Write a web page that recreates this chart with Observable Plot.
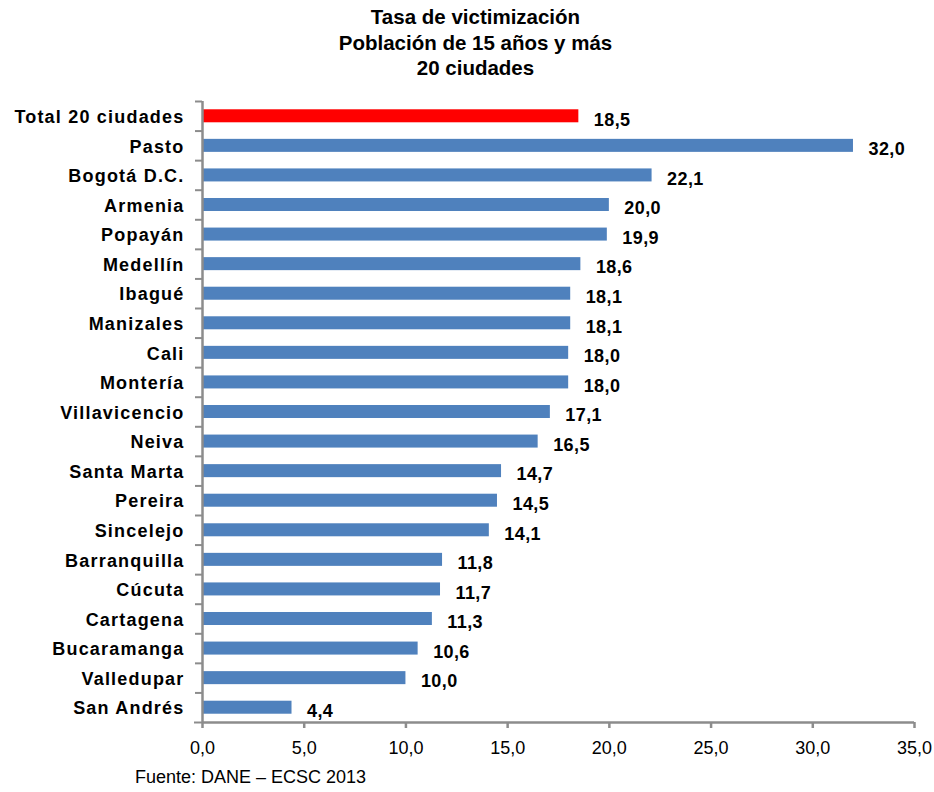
<!DOCTYPE html>
<html>
<head>
<meta charset="utf-8">
<script src="https://cdn.jsdelivr.net/npm/d3@7"></script>
<script src="https://cdn.jsdelivr.net/npm/@observablehq/plot@0.6"></script>
<style>
  html, body { margin: 0; padding: 0; background: #fff; }
  #wrap { position: relative; width: 934px; height: 792px; font-family: "Liberation Sans", Arial, sans-serif; }
  #title { position: absolute; left: 0; top: 4px; width: 951px; text-align: center; font-weight: bold; font-size: 20.5px; line-height: 25.5px; color: #000; }
  #caption { position: absolute; left: 135px; top: 768px; font-size: 18px; line-height: 18px; color: #000; }
  #chart { position: absolute; left: 0; top: 0; }
  #chart g[aria-label="y-axis tick label"] text { letter-spacing: 1.2px; }
  #chart g[aria-label="text"] text { letter-spacing: 0.4px; }
</style>
</head>
<body>
<div id="wrap">
  <div id="chart"></div>
  <div id="title">Tasa de victimización<br>Población de 15 años y más<br>20 ciudades</div>
  <div id="caption">Fuente: DANE – ECSC 2013</div>
</div>
<script>
const cities = ["Total 20 ciudades","Pasto","Bogotá D.C.","Armenia","Popayán","Medellín","Ibagué","Manizales","Cali","Montería","Villavicencio","Neiva","Santa Marta","Pereira","Sincelejo","Barranquilla","Cúcuta","Cartagena","Bucaramanga","Valledupar","San Andrés"];
const rates = [18.5,32.0,22.1,20.0,19.9,18.6,18.1,18.1,18.0,18.0,17.1,16.5,14.7,14.5,14.1,11.8,11.7,11.3,10.6,10.0,4.4];
const xTicks = [0,5,10,15,20,25,30,35];
const highlight = "Total 20 ciudades";

const data = cities.map((c, i) => ({city: c, rate: rates[i]}));
const fmt = v => v.toFixed(1).replace(".", ",");

const W = 934, H = 792, mt = 101, mb = 70, ml = 202, mr = 20;
const step = (H - mt - mb) / cities.length;
const last = cities[cities.length - 1];

const chart = Plot.plot({
  width: W, height: H,
  marginTop: mt, marginBottom: mb, marginLeft: ml, marginRight: mr,
  style: {fontFamily: '"Liberation Sans", Arial, sans-serif', background: "#fff", color: "#000"},
  x: {domain: [0, 35]},
  y: {domain: cities, paddingInner: 0.56, paddingOuter: 0.28, round: false},
  marks: [
    Plot.barX(data, {x: "rate", y: "city", fill: d => d.city === highlight ? "#ff0000" : "#4f81bd"}),
    Plot.text(data, {x: "rate", y: "city", text: d => fmt(d.rate), textAnchor: "start", dx: 15, dy: 3.5, fontWeight: "bold", fontSize: 18, fill: "#000"}),
    Plot.ruleX([0], {stroke: "#8c8c8c", strokeWidth: 2.5}),
    Plot.ruleY([last], {dy: step / 2, stroke: "#8c8c8c", strokeWidth: 2.5}),
    Plot.axisY({tickSize: 7, text: null, label: null, dy: -step / 2, stroke: "#8c8c8c", strokeWidth: 2}),
    Plot.axisY({ticks: [last], tickSize: 8, text: null, label: null, dy: step / 2, stroke: "#8c8c8c", strokeWidth: 2}),
    Plot.axisY({tickSize: 0, tickPadding: 18, label: null, fontSize: 18, fontWeight: "bold", fill: "#000", dy: 1}),
    Plot.axisX({ticks: xTicks, tickSize: 6, tickPadding: 13, tickFormat: fmt, label: null, fontSize: 18, fill: "#000", stroke: "#8c8c8c", strokeWidth: 2.5, anchor: "bottom"})
  ]
});
document.getElementById("chart").appendChild(chart);
</script>
</body>
</html>
